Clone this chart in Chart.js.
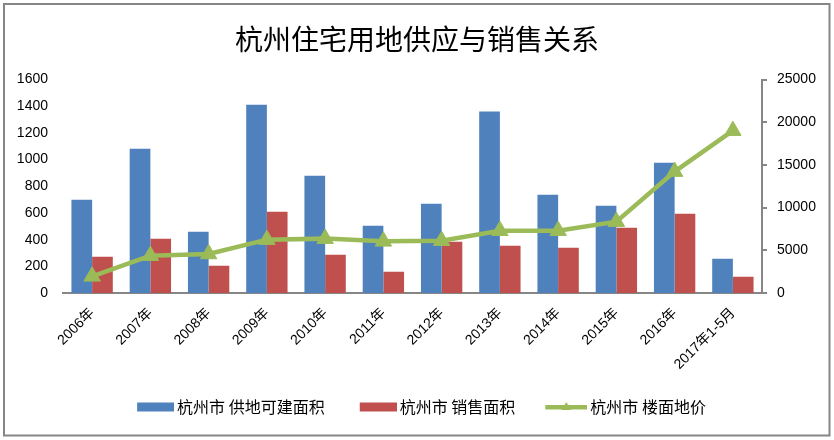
<!DOCTYPE html>
<html lang="zh-CN">
<head>
  <meta charset="UTF-8">
  <title>杭州住宅用地供应与销售关系</title>
  <script src="https://cdn.jsdelivr.net/npm/chart.js"></script>
  <style>
    body { margin: 0; background: #fff; }
    #chart { display: block; }
  </style>
</head>
<body>
  <canvas id="chart" width="834" height="440"></canvas>

  <script>
    // Data
    const years = ['2006年', '2007年', '2008年', '2009年', '2010年', '2011年',
                   '2012年', '2013年', '2014年', '2015年', '2016年', '2017年1-5月'];
    const supplyArea = [700, 1082, 460, 1412, 880, 505, 670, 1360, 737, 655, 977, 257];
    const salesArea = [272, 407, 205, 610, 287, 160, 385, 355, 340, 490, 595, 122];
    const floorPrice = [1950, 4370, 4570, 6250, 6370, 6050, 6130, 7300, 7300, 8360, 14220, 19020];
    const seriesNames = ['杭州市 供地可建面积', '杭州市 销售面积', '杭州市 楼面地价'];
    const leftTicks = [0, 1600, 200];
    const rightTicks = [0, 25000, 5000];

    const BLUE = '#4F81BD', RED = '#C0504D', GREEN = '#9BBB59', AXIS = '#868686';
    const CJK = "'Noto Sans CJK SC', sans-serif";
    const NUM = "'Liberation Sans', 'Noto Sans CJK SC', sans-serif";

    // small legend markers (bar box / line with triangle)
    function legendMark(color, isLine) {
      const c = document.createElement('canvas');
      c.width = 67; c.height = 12;
      const g = c.getContext('2d');
      g.fillStyle = color;
      if (isLine) {
        g.fillRect(25, 4, 42, 4.5);
        g.beginPath(); g.moveTo(46, 1); g.lineTo(51, 9); g.lineTo(41, 9); g.closePath(); g.fill();
      } else {
        g.fillRect(30, 1.5, 37, 9);
      }
      return c;
    }
    const marks = [legendMark(BLUE), legendMark(RED), legendMark(GREEN, true)];

    const frame = {
      id: 'frame',
      beforeDraw(chart) {
        const ctx = chart.ctx;
        ctx.save();
        ctx.strokeStyle = AXIS;
        ctx.lineWidth = 2;
        ctx.strokeRect(4, 4, 825.5, 431.5);
        ctx.restore();
      },
      afterLayout(chart) {
        chart.legend.left -= 8;
        chart.legend.right -= 8;
      }
    };

    new Chart(document.getElementById('chart'), {
      type: 'bar',
      data: {
        labels: years,
        datasets: [
          { label: seriesNames[0], data: supplyArea, backgroundColor: BLUE, yAxisID: 'y', order: 1 },
          { label: seriesNames[1], data: salesArea, backgroundColor: RED, yAxisID: 'y', order: 1 },
          {
            type: 'line', label: seriesNames[2], data: floorPrice, yAxisID: 'y1', order: 0,
            borderColor: GREEN, backgroundColor: GREEN, borderWidth: 4.5, tension: 0,
            pointStyle: 'triangle', pointRadius: 9.5, pointBackgroundColor: GREEN,
            pointBorderColor: GREEN, pointBorderWidth: 1
          }
        ]
      },
      options: {
        responsive: false,
        animation: false,
        datasets: { bar: { barPercentage: 1, categoryPercentage: 0.71 } },
        layout: { padding: { top: 0, left: 0, right: 0, bottom: 15 } },
        plugins: {
          title: {
            display: true,
            text: '杭州住宅用地供应与销售关系',
            color: '#000',
            font: { family: CJK, size: 28, weight: 'normal' },
            padding: { top: 23, bottom: 23 }
          },
          legend: {
            position: 'bottom',
            labels: {
              usePointStyle: true,
              pointStyleWidth: 57,
              padding: 10,
              color: '#000',
              font: { family: CJK, size: 16 },
              generateLabels: chart => chart.data.datasets.map((ds, i) => ({
                text: ds.label, datasetIndex: i, hidden: false, pointStyle: marks[i],
                fillStyle: ds.backgroundColor, strokeStyle: 'transparent', lineWidth: 0, fontColor: '#000'
              }))
            }
          },
          tooltip: { enabled: false }
        },
        scales: {
          x: {
            grid: { display: false },
            border: { color: AXIS, width: 2 },
            ticks: { minRotation: 45, maxRotation: 45, padding: 4, color: '#000', font: { family: NUM, size: 14 } },
            afterFit: s => { s.height = 96; }
          },
          y: {
            position: 'left',
            min: leftTicks[0], max: leftTicks[1],
            ticks: { stepSize: leftTicks[2], padding: 15, color: '#000', font: { family: NUM, size: 14 }, callback: v => String(v) },
            grid: { display: false, drawTicks: false },
            border: { display: false },
            afterFit: s => { s.width = 63; }
          },
          y1: {
            position: 'right',
            min: rightTicks[0], max: rightTicks[1],
            ticks: { stepSize: rightTicks[2], padding: 10, color: '#000', font: { family: NUM, size: 14 }, callback: v => String(v) },
            grid: { drawOnChartArea: false, tickLength: 5, color: AXIS, lineWidth: 2 },
            border: { color: AXIS, width: 2 },
            afterFit: s => { s.width = 72; }
          }
        }
      },
      plugins: [frame]
    });
  </script>
</body>
</html>
